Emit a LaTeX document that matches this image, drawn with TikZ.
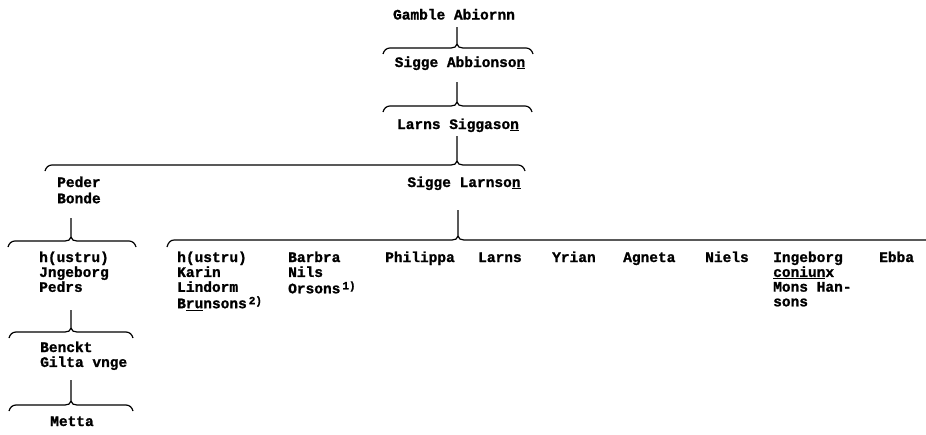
\documentclass[tikz,border=0pt]{standalone}
\usepackage{fontspec}
\setmainfont{Liberation Mono}[BoldFeatures={FakeBold=1.2}]
\newcommand\stk[1]{\begin{tabular}[t]{@{}l@{}}#1\end{tabular}}
\newcommand\supm[1]{\raisebox{4pt}{\fontsize{11}{11}\selectfont #1}}
% brace: xL, xR, xc, y of line, y of top of stem
\newcommand\famb[5]{%
  \draw[br] (#1,#4+6) to[out=75,in=180] (#1+7,#4) -- (#3-6,#4) to[out=0,in=-90] (#3,#4-4) -- (#3,#5);
  \draw[br] (#2,#4+6) to[out=105,in=0] (#2-7,#4) -- (#3+6,#4) to[out=180,in=-90] (#3,#4-4);
}
\begin{document}
\begin{tikzpicture}[x=1pt,y=-1pt,
  lbl/.style={inner sep=0pt,font=\fontsize{14.5}{14.7}\selectfont\bfseries},
  br/.style={line width=1.2pt}]
\useasboundingbox (0,0) rectangle (926,434);
% top line
\node[lbl,anchor=base] (gamble) at (454,19.5) {Gamble Abiornn};
\famb{383}{533}{457}{48}{27}
\node[lbl,anchor=base] (sigge1) at (460,67) {Sigge Abbionso\underline{n}};
\famb{383}{532}{457}{106}{82}
\node[lbl,anchor=base] (larns1) at (458,129) {Larns Siggaso\underline{n}};
\famb{45}{525}{457}{165}{136}
\node[lbl,anchor=base] (sigge2) at (464,187) {Sigge Larnso\underline{n}};
\node[lbl,anchor=base west] (peder) at (57,187) {\stk{Peder\\[1.3pt]Bonde}};
% left line
\famb{8}{136}{71}{241}{218}
\node[lbl,anchor=base west] (ingL) at (39,262) {\stk{h(ustru)\\Jngeborg\\Pedrs}};
\famb{9}{133}{71}{332}{310}
\node[lbl,anchor=base west] (benckt) at (40,352) {\stk{Benckt\\Gilta vnge}};
\famb{9}{133}{71}{405}{380}
\node[lbl,anchor=base] (metta) at (72,426) {Metta};
% children of Sigge Larnson
\draw[br] (167,247) to[out=75,in=180] (174,240) -- (452,240) to[out=0,in=-90] (458,236) -- (458,210);
\draw[br] (926,240) -- (464,240) to[out=180,in=-90] (458,236);
\node[lbl,anchor=base west] (karin) at (177,262) {\stk{h(ustru)\\Karin\\Lindorm\\B\underline{ru}nsons\hspace{2pt}\supm{2)}}};
\node[lbl,anchor=base west] (barbra) at (288,262) {\stk{Barbra\\Nils\\Orsons\hspace{2pt}\supm{1)}}};
\node[lbl,anchor=base west] (philippa) at (385,262) {Philippa};
\node[lbl,anchor=base west] (larns2) at (478,262) {Larns};
\node[lbl,anchor=base west] (yrian) at (552,262) {Yrian};
\node[lbl,anchor=base west] (agneta) at (623,262) {Agneta};
\node[lbl,anchor=base west] (niels) at (705,262) {Niels};
\node[lbl,anchor=base west] (ingeborg) at (773,262) {\stk{Ingeborg\\\underline{coniun}x\\Mons Han-\\sons}};
\node[lbl,anchor=base west] (ebba) at (879,262) {Ebba};
\end{tikzpicture}
\end{document}
